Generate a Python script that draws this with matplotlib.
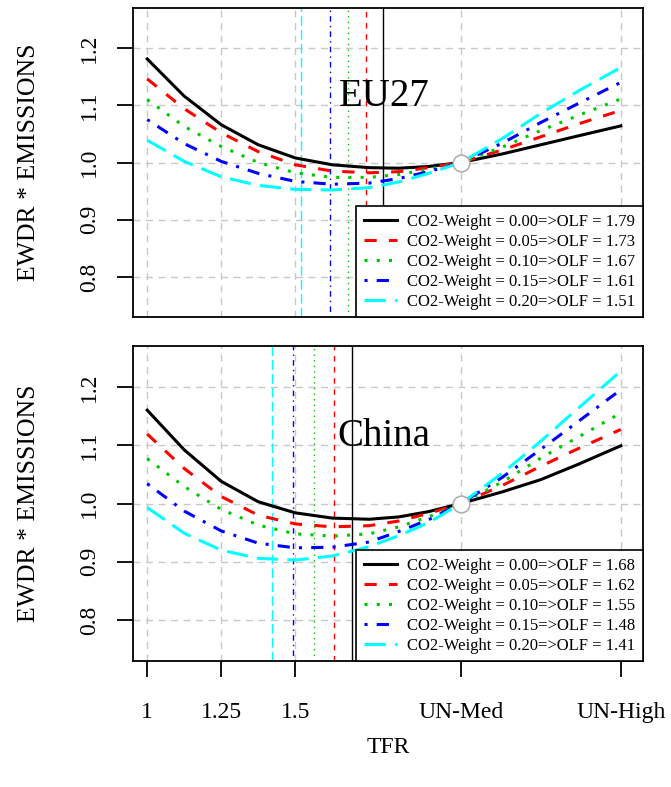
"""EWDR * EMISSIONS vs TFR for EU27 and China"""
import matplotlib as mpl
mpl.use('Agg')  # no display
import matplotlib.pyplot as plt

plt.rcParams['font.family'] = ['Liberation Serif', 'DejaVu Serif']

# TFR positions (UN-Med / UN-High)
x_tfr = [1.0, 1.125, 1.25, 1.375, 1.5, 1.625, 1.75, 1.85, 1.95, 2.06, 2.2, 2.33, 2.46, 2.6]
tick_pos = [1.0, 1.25, 1.5, 2.06, 2.6]
tick_labels = ['1', '1.25', '1.5', 'UN-Med', 'UN-High']
un_med = 2.06

weights = ['0.00', '0.05', '0.10', '0.15', '0.20']

# EU27
eu_black = [1.181, 1.116, 1.066, 1.031, 1.008, 0.996, 0.991, 0.990, 0.993, 1.000, 1.015, 1.031, 1.047, 1.064]
eu_red = [1.146, 1.094, 1.052, 1.019, 0.996, 0.985, 0.982, 0.984, 0.991, 1.000, 1.022, 1.045, 1.068, 1.091]
eu_green = [1.110, 1.063, 1.028, 1.000, 0.982, 0.974, 0.974, 0.979, 0.988, 1.000, 1.027, 1.056, 1.083, 1.111]
eu_blue = [1.075, 1.033, 1.002, 0.981, 0.967, 0.962, 0.964, 0.972, 0.984, 1.000, 1.034, 1.070, 1.104, 1.140]
eu_cyan = [1.039, 1.002, 0.975, 0.960, 0.953, 0.952, 0.956, 0.966, 0.981, 1.000, 1.042, 1.086, 1.126, 1.166]
eu_olf = ['1.79', '1.73', '1.67', '1.61', '1.51']
eu_vlines = [1.798, 1.738, 1.680, 1.618, 1.519]

# China
cn_black = [1.160, 1.092, 1.038, 1.003, 0.984, 0.975, 0.973, 0.977, 0.986, 1.000, 1.020, 1.041, 1.068, 1.099]
cn_red = [1.119, 1.060, 1.012, 0.980, 0.965, 0.960, 0.962, 0.970, 0.983, 1.000, 1.031, 1.064, 1.095, 1.127]
cn_green = [1.077, 1.029, 0.990, 0.963, 0.948, 0.944, 0.948, 0.960, 0.977, 1.000, 1.037, 1.078, 1.115, 1.155]
cn_blue = [1.034, 0.987, 0.953, 0.932, 0.924, 0.925, 0.934, 0.952, 0.972, 1.000, 1.045, 1.093, 1.142, 1.195]
cn_cyan = [0.993, 0.949, 0.920, 0.906, 0.903, 0.910, 0.926, 0.945, 0.967, 1.000, 1.052, 1.107, 1.165, 1.227]
cn_olf = ['1.68', '1.62', '1.55', '1.48', '1.41']
cn_vlines = [1.692, 1.631, 1.562, 1.492, 1.422]

colors = ['black', '#ff0000', '#00c800', '#0000ff', '#00ffff']
styles = ['-', (0, (4, 4)), (0, (1, 3)), (0, (1, 3, 4, 3)), (0, (7, 3))]

fig = plt.figure(figsize=(6.71, 7.87), dpi=100)
ax_top = fig.add_axes([133/671, 1 - 317/787, 510/671, 309/787])
ax_bot = fig.add_axes([133/671, 1 - 661/787, 510/671, 315/787])

panels = [
    (ax_top, 'EU27', [eu_black, eu_red, eu_green, eu_blue, eu_cyan], eu_olf, eu_vlines),
    (ax_bot, 'China', [cn_black, cn_red, cn_green, cn_blue, cn_cyan], cn_olf, cn_vlines),
]

for ax, name, series, olf, vlines in panels:
    ax.set_xlim(0.952, 2.675)
    ax.set_ylim(0.73, 1.27)
    ax.set_xticks(tick_pos)
    ax.set_yticks([0.8, 0.9, 1.0, 1.1, 1.2])
    ax.set_yticklabels(['0.8', '0.9', '1.0', '1.1', '1.2'], rotation=90, va='center')
    ax.grid(True, color='#c8c8c8', linestyle=(0, (5, 4)), linewidth=1.0)
    ax.set_axisbelow(True)
    for sp in ax.spines.values():
        sp.set_linewidth(1.3)

    for xv, c, ls in zip(vlines, colors, styles):
        ax.axvline(xv, color=c, linestyle=ls, linewidth=1.0, zorder=2)
    for ys, c, ls, w, o in zip(series, colors, styles, weights, olf):
        ax.plot(x_tfr, ys, color=c, linestyle=ls, linewidth=2.2, zorder=3,
                label=f'CO2-Weight = {w}=>OLF = {o}')
    ax.plot([un_med], [1.0], 'o', markersize=12, markerfacecolor='white',
            markeredgecolor='#b0b0b0', markeredgewidth=1.2, zorder=4)
    ax.text(1.80, 1.115, name, fontsize=28, ha='center', va='center', zorder=5)

    leg = ax.legend(loc='lower right', bbox_to_anchor=(1.0, 0.0), borderaxespad=0,
                    fontsize=12, fancybox=False, framealpha=1, edgecolor='black',
                    handlelength=2.0, handletextpad=0.6, labelspacing=0.24,
                    borderpad=0.45)
    leg.get_frame().set_linewidth(1.2)
    leg.set_zorder(6)

    ax.set_ylabel('EWDR * EMISSIONS', fontsize=18.5, labelpad=28)
    ax.tick_params(axis='y', length=11.5, width=1.3, labelsize=17, pad=12)

ax_top.tick_params(axis='x', length=0, labelbottom=False)
ax_bot.set_xticklabels(tick_labels)
ax_bot.tick_params(axis='x', length=11.5, width=1.3, labelsize=17, pad=18)
ax_bot.set_xlabel('TFR', fontsize=17, labelpad=10)

fig.savefig('out.png', dpi=100)
